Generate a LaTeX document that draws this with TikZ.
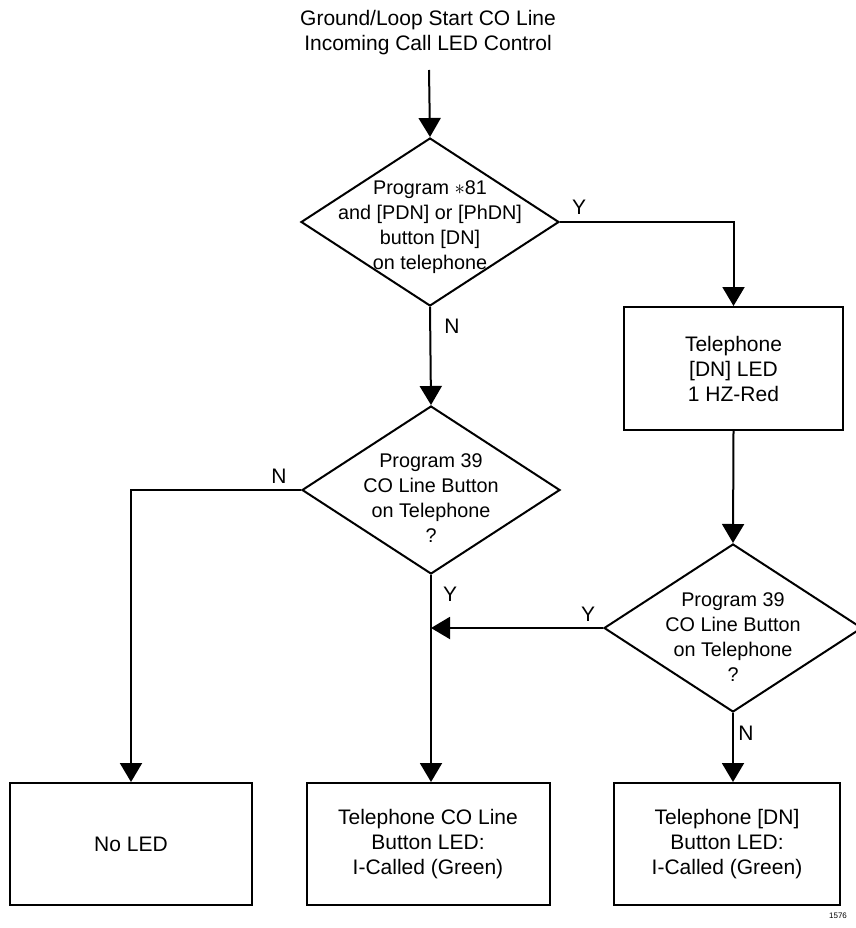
\documentclass[tikz,border=0pt]{standalone}
\usepackage{fontspec}
\setmainfont{Liberation Sans}
\usetikzlibrary{shapes.geometric,arrows.meta}
\begin{document}
\begin{tikzpicture}[x=1pt,y=-1pt,line width=2pt,
  every node/.style={font=\fontsize{21}{25}\selectfont,align=center},
  dec/.style={diamond,draw,inner sep=0pt,minimum width=258pt,minimum height=168pt},
  dtext/.style={align=center,yshift=#1,font=\fontsize{19.8}{25}\selectfont},
  outbox/.style={rectangle,draw,inner sep=0pt},
  arr/.style={-{Triangle[length=19pt,width=22pt]}},
  yn/.style={inner sep=0pt}]
\useasboundingbox (0,0) rectangle (855,928);

\node (title) at (428,33) {Ground/Loop Start CO Line\\Incoming Call LED Control};
\coordinate (start) at (429,70);

\node[dec,label={[dtext=-5pt]center:{Program $\ast$81\\and [PDN] or [PhDN]\\button [DN]\\on telephone}}] (d1) at (430,222) {};
\node[dec,label={[dtext=-8pt]center:{Program 39\\CO Line Button\\on Telephone\\?}}] (d2) at (431,490) {};
\node[dec,label={[dtext=-9pt]center:{Program 39\\CO Line Button\\on Telephone\\?}}] (d3) at (733,628) {};

\node[outbox,minimum width=219pt,minimum height=123pt] (led1) at (733.5,368.5) {Telephone\\\relax[DN] LED\\1 HZ-Red};
\node[outbox,minimum width=242pt,minimum height=122pt] (noled) at (131,844) {No LED};
\node[outbox,minimum width=243pt,minimum height=122pt] (coled) at (428,844) {Telephone CO Line\\Button LED:\\I-Called (Green)};
\node[outbox,minimum width=226pt,minimum height=122pt] (dnled) at (727,844) {Telephone [DN]\\Button LED:\\I-Called (Green)};

\draw[arr] (start) -- (d1.north);
\draw[arr] (d1.east) -| (led1.north);
\draw[arr] (d1.south) -- (d2.north);
\draw[arr] (d2.west) -| (noled.north);
\draw[arr] (d2.south) -- (d2.south |- coled.north);
\draw[arr] (led1.south) -- (d3.north);
\draw[arr] (d3.west) -- (d3.west -| d2.south);
\draw[arr] (d3.south) -- (d3.south |- dnled.north);

\node[yn] (y1) at (579,207) {Y};
\node[yn] (n1) at (452,326) {N};
\node[yn] (n2) at (279,476) {N};
\node[yn] (y2) at (450,594) {Y};
\node[yn] (y3) at (588,614) {Y};
\node[yn] (n3) at (746,733) {N};

\node[font=\fontsize{8}{9}\selectfont] (id) at (838,916) {1576};
\end{tikzpicture}
\end{document}
